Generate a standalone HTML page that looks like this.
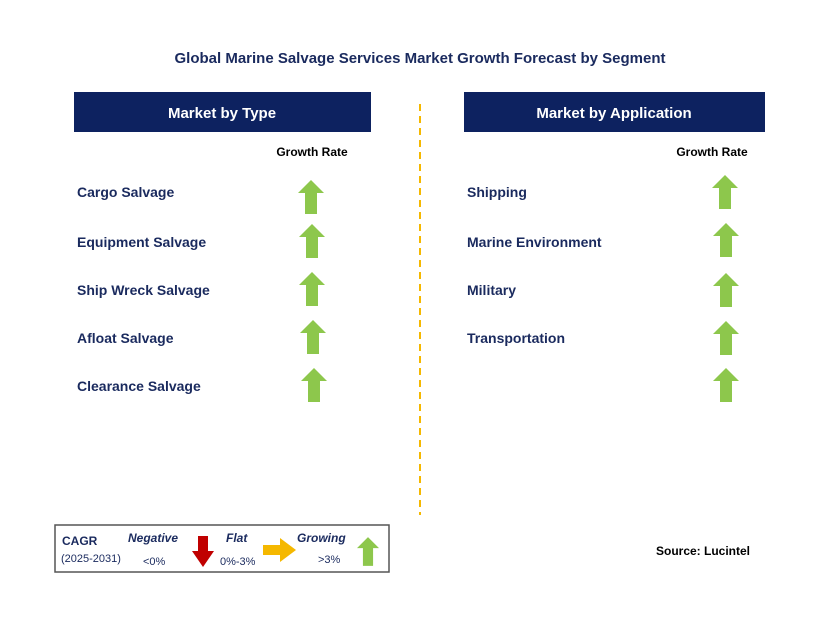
<!DOCTYPE html>
<html><head><meta charset="utf-8"><style>
body{margin:0;background:#fff;font-family:"Liberation Sans",sans-serif}
svg text{font-family:"Liberation Sans",sans-serif}
</style></head><body>
<svg width="829" height="620" viewBox="0 0 829 620">
<defs><symbol id="up" viewBox="0 0 26 34"><polygon points="13,0 26,13 19,13 19,34 7,34 7,13 0,13" fill="#8dc74c"/></symbol></defs>
<text x="420" y="63" text-anchor="middle" font-size="15" font-weight="bold" fill="#1a2a5e">Global Marine Salvage Services Market Growth Forecast by Segment</text>
<rect x="74" y="92" width="297" height="40" fill="#0d2260"/>
<text x="222" y="118" text-anchor="middle" font-size="15" font-weight="bold" fill="#fff">Market by Type</text>
<rect x="464" y="92" width="301" height="40" fill="#0d2260"/>
<text x="614" y="118" text-anchor="middle" font-size="15" font-weight="bold" fill="#fff">Market by Application</text>
<line x1="420" y1="104" x2="420" y2="515" stroke="#f5b800" stroke-width="2" stroke-dasharray="7,5"/>
<text x="312" y="156" text-anchor="middle" font-size="12" font-weight="bold" fill="#000">Growth Rate</text>
<text x="712" y="156" text-anchor="middle" font-size="12" font-weight="bold" fill="#000">Growth Rate</text>
<g font-size="14" font-weight="bold" fill="#1a2a5e">
<text x="77" y="197">Cargo Salvage</text>
<text x="77" y="247">Equipment Salvage</text>
<text x="77" y="295">Ship Wreck Salvage</text>
<text x="77" y="343">Afloat Salvage</text>
<text x="77" y="391">Clearance Salvage</text>
<text x="467" y="197">Shipping</text>
<text x="467" y="247">Marine Environment</text>
<text x="467" y="295">Military</text>
<text x="467" y="343">Transportation</text>
</g>
<use href="#up" x="298" y="180" width="26" height="34"/>
<use href="#up" x="299" y="224" width="26" height="34"/>
<use href="#up" x="299" y="272" width="26" height="34"/>
<use href="#up" x="300" y="320" width="26" height="34"/>
<use href="#up" x="301" y="368" width="26" height="34"/>
<use href="#up" x="712" y="175" width="26" height="34"/>
<use href="#up" x="713" y="223" width="26" height="34"/>
<use href="#up" x="713" y="273" width="26" height="34"/>
<use href="#up" x="713" y="321" width="26" height="34"/>
<use href="#up" x="713" y="368" width="26" height="34"/>
<g>
<rect x="55" y="525" width="334" height="47" fill="#fff" stroke="#555" stroke-width="1.5"/>
<text x="62" y="545" font-size="12" font-weight="bold" fill="#1a2a5e">CAGR</text>
<text x="61" y="562" font-size="11" fill="#1a2a5e">(2025-2031)</text>
<text x="128" y="542" font-size="12" font-weight="bold" font-style="italic" fill="#1a2a5e">Negative</text>
<text x="143" y="565" font-size="11" fill="#1a2a5e">&lt;0%</text>
<polygon points="198,536 208,536 208,551 214,551 203,567 192,551 198,551" fill="#c00000"/>
<text x="226" y="542" font-size="12" font-weight="bold" font-style="italic" fill="#1a2a5e">Flat</text>
<text x="220" y="565" font-size="11" fill="#1a2a5e">0%-3%</text>
<polygon points="263,545 280,545 280,538 296,550 280,562 280,555 263,555" fill="#f5b800"/>
<text x="297" y="542" font-size="12" font-weight="bold" font-style="italic" fill="#1a2a5e">Growing</text>
<text x="318" y="563" font-size="11" fill="#1a2a5e">&gt;3%</text>
<use href="#up" x="357" y="536" width="22" height="31"/>
</g>
<text x="750" y="555" text-anchor="end" font-size="12" font-weight="bold" fill="#000">Source: Lucintel</text>
</svg>
</body></html>
